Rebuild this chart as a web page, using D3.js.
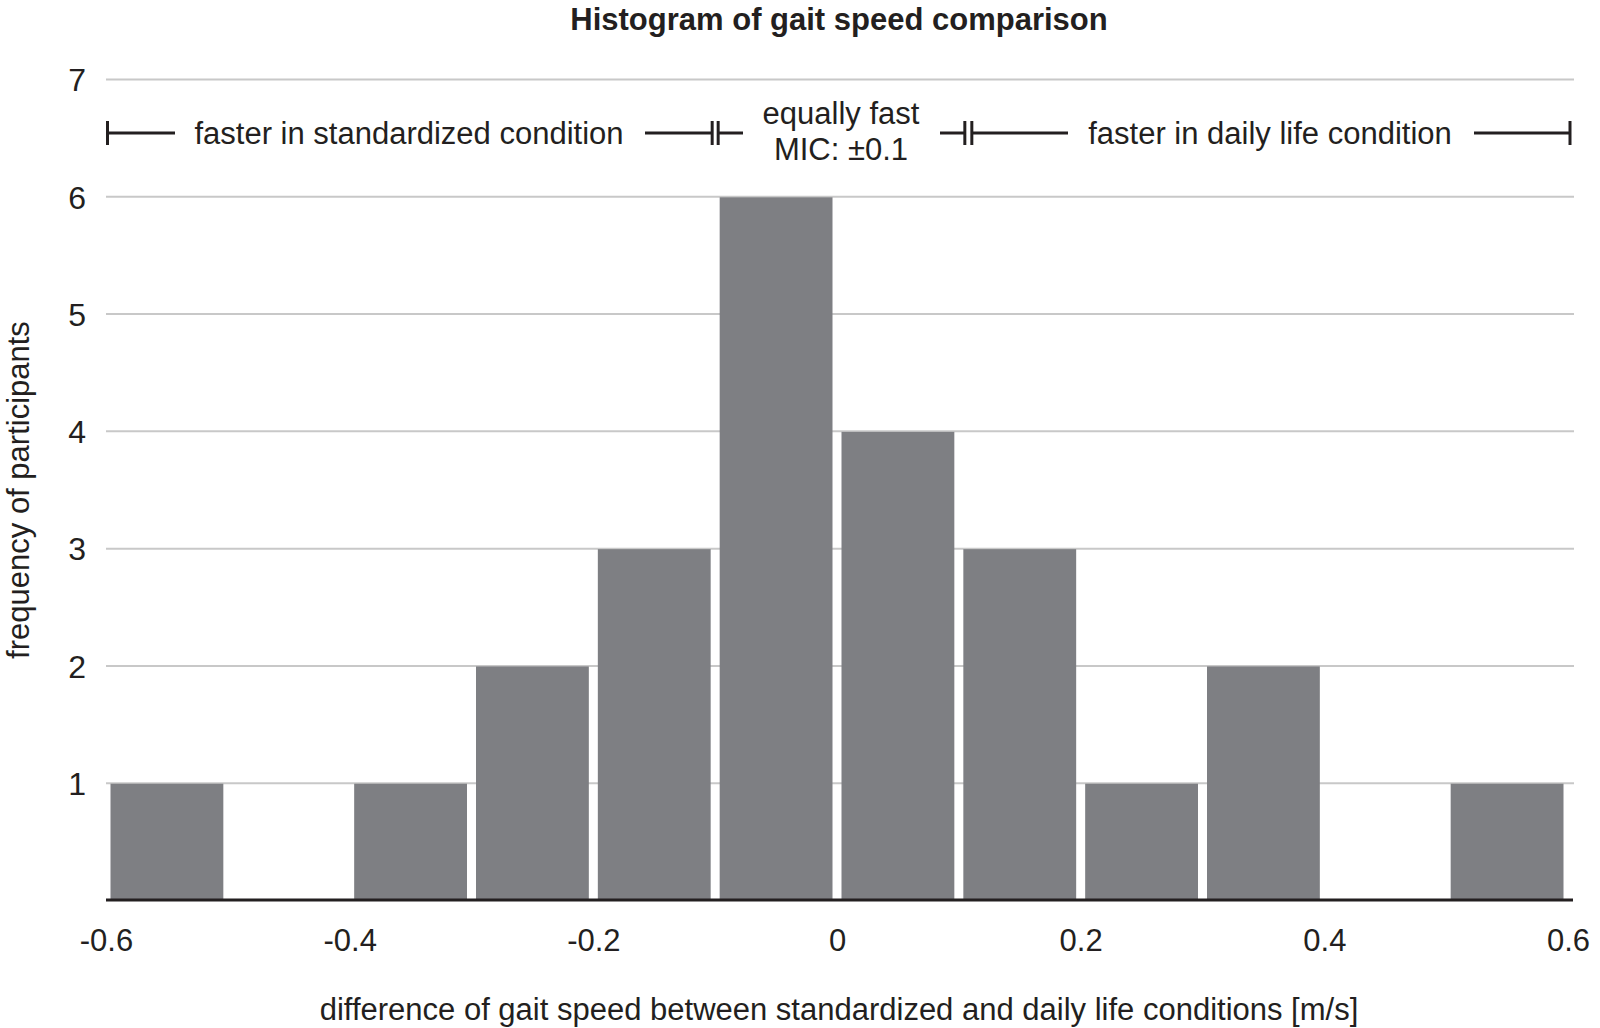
<!DOCTYPE html>
<html>
<head>
<meta charset="utf-8">
<script src="https://cdn.jsdelivr.net/npm/d3@7"></script>
<style>
  html, body { margin: 0; padding: 0; background: #fff; }
  svg { display: block; }
  text { font-family: "Liberation Sans", Arial, Helvetica, sans-serif; fill: #231f20; }
</style>
</head>
<body>
<svg id="chart" width="1600" height="1028"></svg>
<script>
// ---- data ----
const binStarts = [-0.6, -0.5, -0.4, -0.3, -0.2, -0.1, 0.0, 0.1, 0.2, 0.3, 0.4, 0.5];
const counts    = [1, 0, 1, 2, 3, 6, 4, 3, 1, 2, 0, 1];
const binWidth = 0.1;
const xTicks = [-0.6, -0.4, -0.2, 0, 0.2, 0.4, 0.6];
const xTickLabels = ["-0.6", "-0.4", "-0.2", "0", "0.2", "0.4", "0.6"];
const yTicks = [1, 2, 3, 4, 5, 6, 7];
const title = "Histogram of gait speed comparison";
const xTitle = "difference of gait speed between standardized and daily life conditions [m/s]";
const yTitle = "frequency of participants";
const regionLabels = ["faster in standardized condition", "equally fast", "MIC: \u00B10.1", "faster in daily life condition"];
const regionBounds = [-0.6, -0.1, 0.1, 0.6];

// ---- layout ----
const svg = d3.select("#chart");
const x = d3.scaleLinear().domain([-0.6, 0.6]).range([106, 1568]);
const y = d3.scaleLinear().domain([0, 7]).range([900, 79]);
const FS = 31;

// title
svg.append("text").attr("x", 839).attr("y", 30).attr("text-anchor", "middle")
  .attr("font-size", FS).attr("font-weight", "bold").text(title);

// grid lines
const grid = d3.axisLeft(y).tickValues(yTicks).tickSize(-(1574 - 106)).tickFormat(d3.format("d"));
const gy = svg.append("g").attr("transform", "translate(106,0)").call(grid);
gy.select(".domain").remove();
gy.selectAll(".tick line").attr("stroke", "#c8c8c8").attr("stroke-width", 2);
gy.selectAll(".tick text").attr("x", -20).attr("dy", "0.37em").attr("font-size", 32)
  .attr("font-family", "Liberation Sans, Arial, sans-serif").attr("fill", "#231f20");

// bars
const pad = 4.5;
svg.append("g").selectAll("rect").data(binStarts.map((s, i) => ({ s, c: counts[i] })).filter(d => d.c > 0))
  .join("rect")
  .attr("x", d => x(d.s) + pad)
  .attr("width", d => x(d.s + binWidth) - x(d.s) - 2 * pad)
  .attr("y", d => y(d.c) + 1)
  .attr("height", d => y(0) - y(d.c) - 1)
  .attr("fill", "#7e7f83");

// x axis
const xa = d3.axisBottom(x).tickValues(xTicks).tickSize(0).tickFormat((d, i) => xTickLabels[i]);
const gx = svg.append("g").attr("transform", `translate(0,${y(0)})`).call(xa);
gx.select(".domain").attr("stroke", "#231f20").attr("stroke-width", 3).attr("d", `M106,0H1573`);
gx.selectAll(".tick text").attr("y", 51).attr("dy", 0).attr("font-size", FS)
  .attr("font-family", "Liberation Sans, Arial, sans-serif").attr("fill", "#231f20");

// axis titles
svg.append("text").attr("x", 839).attr("y", 1020).attr("text-anchor", "middle")
  .attr("font-size", FS).text(xTitle);
svg.append("text").attr("transform", "translate(29,490) rotate(-90)").attr("text-anchor", "middle")
  .attr("font-size", FS).text(yTitle);

// region annotation brackets
const ay = 133, th = 12;
const ann = svg.append("g").attr("stroke", "#231f20").attr("stroke-width", 3).attr("fill", "none");
const segs = [
  [x(regionBounds[0]) + 1, 175], [645, x(regionBounds[1]) - 3],
  [x(regionBounds[1]) + 3, 743], [940, x(regionBounds[2]) + 6],
  [x(regionBounds[2]) + 13, 1068], [1474, x(regionBounds[3]) + 2]
];
segs.forEach(s => ann.append("line").attr("x1", s[0]).attr("x2", s[1]).attr("y1", ay).attr("y2", ay));
const capsX = [x(regionBounds[0]) + 1.5, x(regionBounds[1]) - 3, x(regionBounds[1]) + 3,
               x(regionBounds[2]) + 6, x(regionBounds[2]) + 13, x(regionBounds[3]) + 2];
capsX.forEach(cx => ann.append("line").attr("x1", cx).attr("x2", cx).attr("y1", ay - th).attr("y2", ay + th));

svg.append("text").attr("x", 409).attr("y", 144).attr("text-anchor", "middle").attr("font-size", FS).text(regionLabels[0]);
svg.append("text").attr("x", 841).attr("y", 124).attr("text-anchor", "middle").attr("font-size", FS).text(regionLabels[1]);
svg.append("text").attr("x", 841).attr("y", 160).attr("text-anchor", "middle").attr("font-size", FS).text(regionLabels[2]);
svg.append("text").attr("x", 1270).attr("y", 144).attr("text-anchor", "middle").attr("font-size", FS).text(regionLabels[3]);
</script>
</body>
</html>
